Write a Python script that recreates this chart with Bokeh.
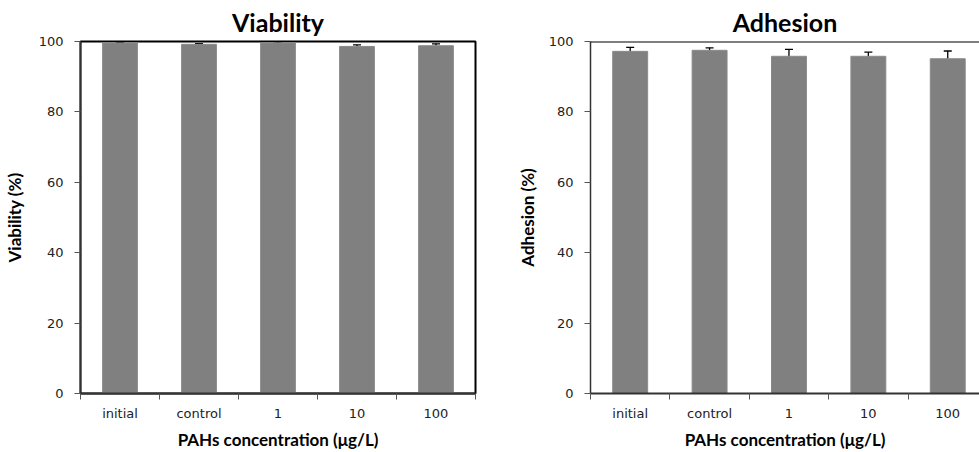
from bokeh.plotting import figure
from bokeh.layouts import row
from bokeh.models import ColumnDataSource, FixedTicker, Whisker, TeeHead, Span, Range1d
from bokeh.embed import file_html
from bokeh.resources import INLINE

categories = ["initial", "control", "1", "10", "100"]
viability = [99.6, 99.2, 99.6, 98.6, 98.8]
viability_err = [0.1, 0.2, 0.3, 0.45, 0.55]
adhesion = [97.2, 97.5, 95.8, 95.8, 95.1]
adhesion_err = [1.15, 0.7, 1.95, 1.2, 2.2]
y_ticks = [0, 20, 40, 60, 80, 100]
x_title = "PAHs concentration (\u03bcg/L)"

TICK_FONT = "DejaVu Sans"
BOLD_FONT = "Lato"


def make(title, ylabel, values, errs, width, b_left, b_right, x_end, full_box, ylab_standoff):
    xs = [i + 0.5 for i in range(len(categories))]
    src = ColumnDataSource(dict(
        x=xs, top=values,
        lower=[v - e for v, e in zip(values, errs)],
        upper=[v + e for v, e in zip(values, errs)],
    ))
    p = figure(width=width, height=452, x_range=Range1d(0, x_end), y_range=Range1d(0, 100),
               output_backend="svg", toolbar_location=None,
               min_border_left=b_left, min_border_right=b_right,
               min_border_top=34, min_border_bottom=59)
    p.vbar(x="x", top="top", width=0.44, source=src, fill_color="#808080", line_color="#8a8a8a")
    head = dict(size=8, line_color="black", line_width=1.3)
    p.add_layout(Whisker(source=src, base="x", upper="upper", lower="lower",
                         line_color="black", line_width=1.3,
                         upper_head=TeeHead(**head), lower_head=TeeHead(**head)))

    p.title.text = title
    p.title.align = "center"
    p.title.text_font = BOLD_FONT
    p.title.text_font_size = "25px"
    p.title.text_font_style = "bold"
    p.title.text_color = "black"
    p.title.standoff = 9

    p.xgrid.visible = False
    p.ygrid.visible = False

    xa = p.xaxis[0]
    xa.ticker = FixedTicker(ticks=xs, minor_ticks=list(range(len(categories) + 1)))
    xa.major_label_overrides = {x: c for x, c in zip(xs, categories)}
    xa.major_tick_out = 0
    xa.major_tick_in = 0
    xa.minor_tick_out = 6
    xa.minor_tick_in = 0
    xa.minor_tick_line_color = "#555555"
    xa.axis_line_color = "#333333"
    xa.axis_line_width = 2
    xa.major_label_standoff = 6
    xa.major_label_text_font = TICK_FONT
    xa.major_label_text_font_size = "13px"
    xa.major_label_text_color = "#222222"
    xa.axis_label = x_title
    xa.axis_label_text_font = BOLD_FONT
    xa.axis_label_text_font_size = "17px"
    xa.axis_label_text_font_style = "bold"
    xa.axis_label_text_color = "black"
    xa.axis_label_standoff = 5

    ya = p.yaxis[0]
    ya.ticker = FixedTicker(ticks=y_ticks)
    ya.major_tick_out = 6
    ya.major_tick_in = 0
    ya.minor_tick_out = 0
    ya.minor_tick_in = 0
    ya.major_tick_line_color = "#555555"
    ya.axis_line_color = "#333333"
    ya.axis_line_width = 1.5
    ya.major_label_standoff = 11
    ya.major_label_text_font = TICK_FONT
    ya.major_label_text_font_size = "13px"
    ya.major_label_text_color = "#222222"
    ya.axis_label = ylabel
    ya.axis_label_text_font = BOLD_FONT
    ya.axis_label_text_font_size = "17px"
    ya.axis_label_text_font_style = "bold"
    ya.axis_label_text_color = "black"
    ya.axis_label_standoff = ylab_standoff

    if full_box:
        p.outline_line_color = "black"
        p.outline_line_width = 2
        p.outline_line_alpha = 1
    else:
        p.outline_line_color = None
        p.add_layout(Span(location=y_ticks[-1], dimension="width", line_color="black", line_width=2))
    return p


left = make("Viability", "Viability (%)", viability, viability_err,
            width=490, b_left=78, b_right=15, x_end=5, full_box=True, ylab_standoff=11)
right = make("Adhesion", "Adhesion (%)", adhesion, adhesion_err,
             width=489, b_left=100, b_right=0, x_end=4.9, full_box=False, ylab_standoff=8)

layout = row(left, right)
open("out.html", "w").write(file_html(layout, INLINE))
